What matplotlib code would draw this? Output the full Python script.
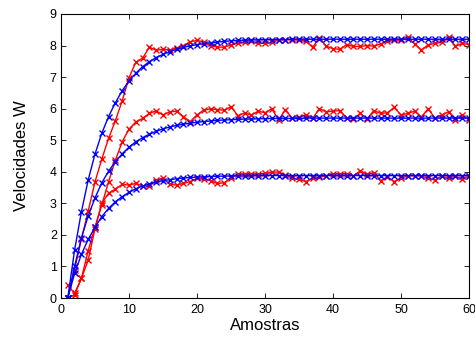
import matplotlib
matplotlib.use("Agg")
import matplotlib.pyplot as plt
import numpy as np

plt.rcParams['font.family'] = ['Liberation Sans', 'DejaVu Sans']

amostras = list(range(1, 61))

# Reference (model) responses
ref_alta = [0.0, 1.52, 2.73, 3.74, 4.56, 5.22, 5.75, 6.19, 6.57, 6.88,
            7.12, 7.33, 7.49, 7.62, 7.72, 7.81, 7.88, 7.94, 7.99, 8.03,
            8.06, 8.09, 8.11, 8.13, 8.15, 8.16, 8.17, 8.18, 8.18, 8.19,
            8.19, 8.19, 8.19, 8.20, 8.20, 8.20, 8.20, 8.20, 8.20, 8.20,
            8.20, 8.20, 8.20, 8.20, 8.20, 8.20, 8.20, 8.20, 8.20, 8.20,
            8.20, 8.20, 8.20, 8.20, 8.20, 8.20, 8.20, 8.20, 8.20, 8.20]
ref_media = [0.0, 1.00, 1.90, 2.60, 3.17, 3.65, 4.02, 4.32, 4.57, 4.78,
             4.95, 5.08, 5.19, 5.28, 5.36, 5.42, 5.47, 5.51, 5.54, 5.57,
             5.59, 5.61, 5.63, 5.64, 5.65, 5.66, 5.67, 5.67, 5.68, 5.68,
             5.69, 5.69, 5.69, 5.69, 5.69, 5.70, 5.70, 5.70, 5.70, 5.70,
             5.70, 5.70, 5.70, 5.70, 5.70, 5.70, 5.70, 5.70, 5.70, 5.70,
             5.70, 5.70, 5.70, 5.70, 5.70, 5.70, 5.70, 5.70, 5.70, 5.70]
ref_baixa = [0.0, 0.78, 1.38, 1.86, 2.24, 2.58, 2.84, 3.05, 3.21, 3.35,
             3.46, 3.55, 3.61, 3.67, 3.72, 3.75, 3.78, 3.80, 3.82, 3.83,
             3.84, 3.85, 3.86, 3.86, 3.87, 3.87, 3.87, 3.88, 3.88, 3.88,
             3.88, 3.88, 3.88, 3.88, 3.88, 3.88, 3.88, 3.88, 3.88, 3.88,
             3.88, 3.88, 3.88, 3.88, 3.88, 3.88, 3.88, 3.88, 3.88, 3.88,
             3.88, 3.88, 3.88, 3.88, 3.88, 3.88, 3.88, 3.88, 3.88, 3.88]

# Measured responses
med_alta = [0.0, 0.90, 1.87, 2.75, 3.68, 4.40, 5.06, 5.62, 6.25, 6.98,
            7.47, 7.60, 7.95, 7.85, 7.88, 7.86, 7.92, 8.00, 8.12, 8.16,
            8.12, 8.00, 7.95, 7.95, 8.02, 8.07, 8.12, 8.15, 8.07, 8.07,
            8.10, 8.17, 8.18, 8.18, 8.17, 8.15, 7.94, 8.24, 7.98, 7.90,
            7.88, 8.03, 7.97, 7.97, 8.00, 7.98, 8.05, 8.15, 8.17, 8.17,
            8.26, 8.05, 7.86, 8.02, 8.07, 8.10, 8.26, 7.98, 8.07, 8.03]
med_media = [0.40, 0.15, 0.62, 1.50, 2.25, 2.95, 3.69, 4.37, 4.95, 5.35,
             5.58, 5.69, 5.85, 5.93, 5.80, 5.90, 5.92, 5.75, 5.59, 5.80,
             5.96, 5.99, 5.97, 5.95, 6.06, 5.78, 5.86, 5.80, 5.92, 5.87,
             6.00, 5.64, 5.97, 5.69, 5.74, 5.80, 5.69, 6.00, 5.90, 5.92,
             5.94, 5.71, 5.67, 5.85, 5.67, 5.94, 5.85, 5.87, 6.04, 5.80,
             5.85, 5.92, 5.74, 6.00, 5.69, 5.80, 5.90, 5.64, 5.80, 5.64]
med_baixa = [0.0, 0.10, 0.62, 1.20, 2.20, 3.00, 3.32, 3.45, 3.60, 3.58,
             3.63, 3.55, 3.55, 3.74, 3.79, 3.60, 3.58, 3.63, 3.69, 3.79,
             3.78, 3.72, 3.63, 3.65, 3.80, 3.93, 3.92, 3.93, 3.93, 3.95,
             3.99, 3.99, 3.90, 3.79, 3.76, 3.69, 3.79, 3.83, 3.87, 3.93,
             3.94, 3.93, 3.87, 4.03, 3.93, 3.97, 3.72, 3.83, 3.69, 3.79,
             3.87, 3.87, 3.87, 3.79, 3.74, 3.87, 3.79, 3.87, 3.76, 3.87]

fig = plt.figure(figsize=(4.75, 3.37), dpi=100)
ax = fig.add_axes([0.1284, 0.1157, 0.859, 0.8428])

estilo = dict(marker='x', markersize=4.5, linewidth=1.0, markeredgewidth=1.0)
for serie in (med_alta, med_media, med_baixa):
    ax.plot(amostras, serie, color='#ff0000', **estilo)
for serie in (ref_alta, ref_media, ref_baixa):
    ax.plot(amostras, serie, color='#0000ff', **estilo)

ax.set_xlim(0, 60)
ax.set_ylim(0, 9)
ax.set_xticks(range(0, 61, 10))
ax.set_yticks(range(0, 10))
ax.tick_params(direction='in', top=True, right=True, labelsize=9,
               length=3.5, width=0.6)
ax.tick_params(axis='x', pad=4)
ax.tick_params(axis='y', pad=3)
for s in ax.spines.values():
    s.set_linewidth(0.8)
ax.set_xlabel('Amostras', fontsize=12, labelpad=2)
ax.set_ylabel('Velocidades W', fontsize=12, labelpad=15)

fig.savefig('out.png', dpi=100)
